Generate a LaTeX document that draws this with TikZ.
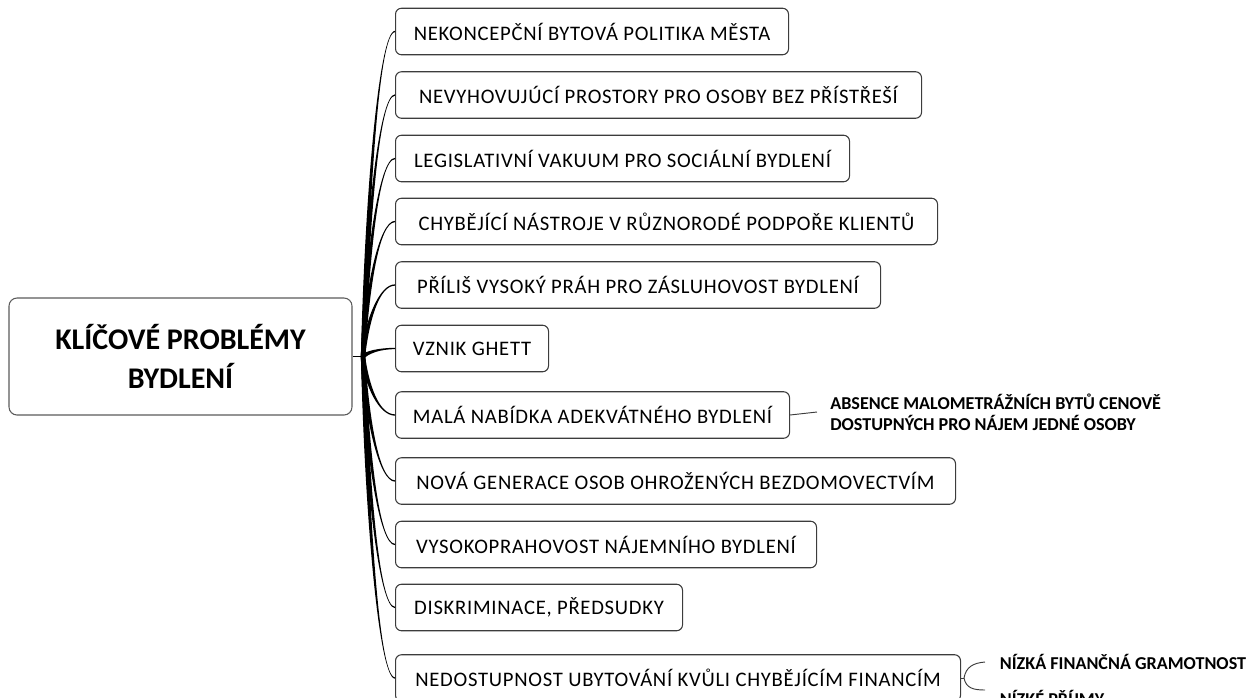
\documentclass[tikz,border=0pt]{standalone}
\usepackage{fontspec}
\setmainfont{Carlito}
\usetikzlibrary{calc}
\definecolor{boxcol}{HTML}{3C3C3C}
\definecolor{maincol}{HTML}{5A5A5A}
\definecolor{linecol}{HTML}{000000}
\newcommand\mmbranch[1]{%
  \fill[linecol] let \p1=(root), \p2=(#1.west),
    \p3=(\x1+3pt,{\y2+0.5*(\y1-\y2)}),
    \p4=(\x1+12pt,\y2),
    \n1={veclen(\x3-\x1,\y3-\y1)},
    \n2={-(\y3-\y1)/\n1*1.6pt},
    \n3={(\x3-\x1)/\n1*1.6pt}
  in (\x1+\n2,\y1+\n3) .. controls (\x3+\n2,\y3+\n3) and (\x4,\y4+0.5pt) .. (\x2,\y2+0.5pt)
     -- (\x2,\y2-0.5pt) .. controls (\x4,\y4-0.5pt) and (\x3-\n2,\y3-\n3) .. (\x1-\n2,\y1-\n3) -- cycle;}
\begin{document}
\begin{tikzpicture}[x=0.75pt,y=-0.75pt,
  box/.style={draw=boxcol, line width=0.8pt, rounded corners=4.5pt, minimum height=34.9pt,
    anchor=west, inner xsep=0pt, font=\fontsize{15.5}{18}\selectfont\addfontfeature{LetterSpace=3.5}, text=black},
  bw/.style={minimum width={(#1-395)*0.75pt}},
  mainbox/.style={draw=maincol, line width=0.8pt, rounded corners=6pt, minimum width=257.25pt,
    minimum height=87.75pt, align=center, font=\bfseries\fontsize{22.5}{29.25}\selectfont},
  leaf/.style={anchor=west, align=left, inner xsep=9.75pt, inner ysep=0pt,
    font=\bfseries\fontsize{13.6}{15.4}\selectfont},
  thinline/.style={draw=boxcol, line width=0.7pt}]
\useasboundingbox (0,0) rectangle (1253,697);
\node[mainbox] (main) at (180.5,356.5) {KLÍČOVÉ PROBLÉMY\\BYDLENÍ};
\coordinate (root) at (363,356.5);
\node[box,bw=788] (b1) at (395,31.5) {NEKONCEPČNÍ BYTOVÁ POLITIKA MĚSTA};
\node[box,bw=921] (b2) at (395,95) {NEVYHOVUJÚCÍ PROSTORY PRO OSOBY BEZ PŘÍSTŘEŠÍ};
\node[box,bw=849] (b3) at (395,158.5) {LEGISLATIVNÍ VAKUUM PRO SOCIÁLNÍ BYDLENÍ};
\node[box,bw=937] (b4) at (395,221.5) {CHYBĚJÍCÍ NÁSTROJE V RŮZNORODÉ PODPOŘE KLIENTŮ};
\node[box,bw=880] (b5) at (395,285) {PŘÍLIŠ VYSOKÝ PRÁH PRO ZÁSLUHOVOST BYDLENÍ};
\node[box,bw=548] (b6) at (395,348.5) {VZNIK GHETT};
\node[box,bw=789] (b7) at (395,415) {MALÁ NABÍDKA ADEKVÁTNÉHO BYDLENÍ};
\node[box,bw=955] (b8) at (395,481) {NOVÁ GENERACE OSOB OHROŽENÝCH BEZDOMOVECTVÍM};
\node[box,bw=816] (b9) at (395,544.5) {VYSOKOPRAHOVOST NÁJEMNÍHO BYDLENÍ};
\node[box,bw=682] (b10) at (395,607.5) {DISKRIMINACE, PŘEDSUDKY};
\node[box,bw=960] (b11) at (395,678) {NEDOSTUPNOST UBYTOVÁNÍ KVŮLI CHYBĚJÍCÍM FINANCÍM};
\draw[linecol, line width=0.8pt] (main.east) -- (root);
\foreach \b in {b1,b2,b3,b4,b5,b6,b7,b8,b9,b10,b11} {\mmbranch{\b}}
\node[leaf] (s7) at (817,412) {ABSENCE MALOMETRÁŽNÍCH BYTŮ CENOVĚ\\DOSTUPNÝCH PRO NÁJEM JEDNÉ OSOBY};
\draw[thinline] (b7.east) -- (s7.west);
\node[leaf, inner xsep=11pt] (f1) at (985,662) {NÍZKÁ FINANČNÁ GRAMOTNOST};
\node[leaf, inner xsep=11pt] (f2) at (985,697.5) {NÍZKÉ PŘÍJMY};
\coordinate (fk) at (964,678);
\draw[thinline] (b11.east) -- (fk);
\draw[thinline] (fk) .. controls (966,667) and (973,663) .. (f1.west);
\draw[thinline] (fk) .. controls (966,688) and (973,690) .. ($(f2.west)+(0,-7.5)$);
\end{tikzpicture}
\end{document}
